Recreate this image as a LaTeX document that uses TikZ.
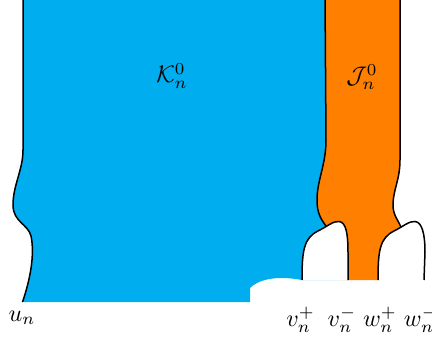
\documentclass[tikz,border=0pt]{standalone}
\definecolor{kblue}{RGB}{0,174,239}
\definecolor{jorange}{RGB}{255,128,0}
\tikzset{
  bound/.style={draw=black, line width=1.5pt},
  lbl/.style={scale=2.4, inner sep=0pt}
}
\begin{document}
\begin{tikzpicture}[x=1pt,y=-1pt]
\useasboundingbox (0,0) rectangle (432,337);
\begin{scope}
\clip (0,0) rectangle (432,337);
% blue region
\fill[kblue] (23,-5) -- (23,150) .. controls (23,170) and (13,185) .. (13,205)
  .. controls (13,222) and (28,224) .. (31,236)
  .. controls (35,255) and (30,280) .. (22.5,302)
  -- (250,302) -- (250,288) .. controls (258,280) and (275,275) .. (302,280)
  -- (340,280) -- (340,-5) -- cycle;
% orange region
\fill[jorange] (325,-5) -- (326,140) .. controls (326,165) and (317,180) .. (317,200)
  .. controls (317,212) and (320,218) .. (326,226)
  -- (340,280) -- (380,280) -- (401,227)
  .. controls (398,220) and (393,215) .. (393,205)
  .. controls (393,190) and (400,180) .. (400,160) -- (400,-5) -- cycle;
% lobes
\fill[white] (302,280) .. controls (302,250) and (304,238) .. (318,231)
  .. controls (328,226) and (333,221) .. (339,221.5)
  .. controls (346,222) and (348,234) .. (348,252) -- (348,280) -- cycle;
\fill[white] (378,280) .. controls (378,250) and (380,238) .. (394,231)
  .. controls (404,226) and (409,221) .. (415,221.5)
  .. controls (422,222) and (425,234) .. (425,252) -- (424,280) -- cycle;
% boundaries
\draw[bound] (23,-5) -- (23,150) .. controls (23,170) and (13,185) .. (13,205)
  .. controls (13,222) and (28,224) .. (31,236)
  .. controls (35,255) and (30,280) .. (22.5,302);
\draw[bound] (325,-5) -- (326,140) .. controls (326,165) and (317,180) .. (317,200)
  .. controls (317,212) and (320,218) .. (326,226);
\draw[bound] (400,-5) -- (400,160) .. controls (400,180) and (393,190) .. (393,205)
  .. controls (393,215) and (398,220) .. (401,227);
\draw[bound] (302,280) .. controls (302,250) and (304,238) .. (318,231)
  .. controls (328,226) and (333,221) .. (339,221.5)
  .. controls (346,222) and (348,234) .. (348,252) -- (348,280);
\draw[bound] (378,280) .. controls (378,250) and (380,238) .. (394,231)
  .. controls (404,226) and (409,221) .. (415,221.5)
  .. controls (422,222) and (425,234) .. (425,252) -- (424,280);
% labels
\node[lbl] (K) at (172,76) {$\mathcal{K}_n^0$};
\node[lbl] (J) at (362,77) {$\mathcal{J}_n^0$};
\node[lbl] (u) at (22,318) {$u_n$};
\node[lbl] (vp) at (300.5,320) {$v_n^+$};
\node[lbl] (vm) at (342,320) {$v_n^-$};
\node[lbl] (wp) at (380,320) {$w_n^+$};
\node[lbl] (wm) at (421,320) {$w_n^-$};
\end{scope}
\end{tikzpicture}
\end{document}
